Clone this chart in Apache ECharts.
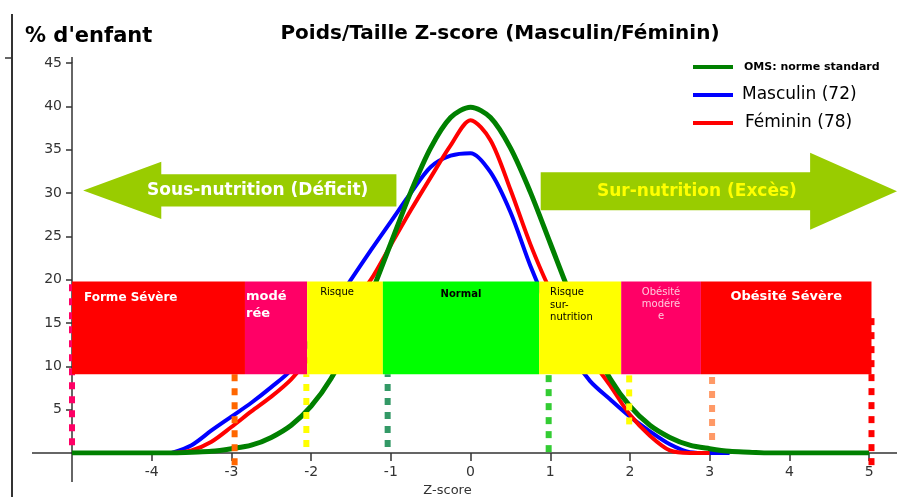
<!DOCTYPE html>
<html>
<head>
<meta charset="utf-8">
<script src="https://cdn.jsdelivr.net/npm/echarts@6/dist/echarts.min.js"></script>
<style>
  html, body { margin: 0; padding: 0; background: #fff; }
  #chart { width: 897px; height: 497px; }
</style>
</head>
<body>
<div id="chart"></div>
<script>
// z-score grid shared by the three curves
const zScores = [-5, -4.75, -4.5, -4.25, -4, -3.75, -3.5, -3.25, -3, -2.75, -2.5, -2.25, -2, -1.75, -1.5, -1.25, -1, -0.75, -0.5, -0.25,
  0, 0.25, 0.5, 0.75, 1, 1.25, 1.5, 1.75, 2, 2.25, 2.5, 2.75, 3, 3.25, 3.5, 3.75, 4, 4.25, 4.5, 4.75, 5];

// % d'enfant
const omsValues = [0, 0, 0, 0, 0, 0, 0.1, 0.2, 0.5, 0.9, 1.8, 3.2, 5.4, 8.6, 13.0, 18.3, 24.2, 30.1, 35.2, 38.7,
  39.9, 38.7, 35.2, 30.1, 24.2, 18.3, 13.0, 8.6, 5.4, 3.2, 1.8, 0.9, 0.5, 0.2, 0.1, 0, 0, 0, 0, 0, 0];
const masculinValues = [null, null, null, null, null, 0, 0.9, 2.6, 4.2, 5.8, 7.6, 9.6, 13.1, 16.5, 20, 23.4, 26.7, 30.0, 33.0, 34.3,
  34.6, 32.4, 27.8, 21.6, 16.2, 11.5, 8.3, 6.2, 4.2, 2.5, 1.0, 0.1, 0, 0, null, null, null, null, null, null, null];
const femininValues = [null, null, null, null, null, 0, 0.3, 1.3, 3.0, 4.8, 6.5, 8.5, 11.2, 14.1, 17.1, 20, 24, 28, 31.8, 35.5,
  38.4, 36.1, 30.4, 24.1, 18.8, 15, 11, 7.8, 4.4, 2.0, 0.3, 0, 0, null, null, null, null, null, null, null, null];

// classification bands
const bandFrom = [-5, -2.83, -2.05, -1.1, 0.86, 1.89, 2.89];
const bandTo = [-2.83, -2.05, -1.1, 0.86, 1.89, 2.89, 5.03];
const bandLow = 9.1;
const bandHigh = 19.8;
const bandLabels = ['Forme Sévère', 'modé\nrée', 'Risque', 'Normal', 'Risque\nsur-\nnutrition', 'Obésité\nmodéré\ne', 'Obésité Sévère'];

// dotted cut-off lines
const cutZ = [-5, -2.96, -2.06, -1.04, 0.98, 1.99, 3.03, 5.03];
const cutFrom = [0.9, -1.4, 0.7, 0.7, 0.1, 3.3, 1.5, -1.4];
const cutTo = [19.8, 9.1, 9.1, 9.1, 9.1, 9.1, 9.1, 15.9];

// arrows: [tail, head base, tip, centre y, body half height, head half height, text z]
const arrowLabels = ['Sous-nutrition (Déficit)', 'Sur-nutrition (Excès)'];
const arrowGeom = [
  [-0.93, -3.88, -4.86, 30.3, 1.85, 3.3, -2.67],
  [0.88, 4.26, 5.35, 30.2, 2.2, 4.45, 2.84]
];

// styles
const bandColors = ['#ff0000', '#ff0066', '#ffff00', '#00ff00', '#ffff00', '#ff0066', '#ff0000'];
const bandText = [
  { align: 'left', dx: 12, dy: 8, color: '#fff', font: 'bold 12px "DejaVu Sans"', lh: 16 },
  { align: 'left', dx: 1, dy: 7, color: '#fff', font: 'bold 13px "DejaVu Sans"', lh: 17 },
  { align: 'left', dx: 13, dy: 5, color: '#000', font: '10px "DejaVu Sans"', lh: 13 },
  { align: 'center', dx: 0, dy: 7, color: '#000', font: 'bold 10px "DejaVu Sans"', lh: 13 },
  { align: 'left', dx: 11, dy: 5, color: '#000', font: '10px "DejaVu Sans"', lh: 12.5 },
  { align: 'center', dx: 0, dy: 5, color: '#ffc8dc', font: '10px "DejaVu Sans"', lh: 12 },
  { align: 'center', dx: 0, dy: 7, color: '#fff', font: 'bold 13px "DejaVu Sans"', lh: 16 }
];
const cutColors = ['#ff0066', '#ff6600', '#ffff00', '#339966', '#33cc33', '#ffff00', '#ff9966', '#ff0000'];
const arrowTextColors = ['#ffffff', '#ffff00'];

const chart = echarts.init(document.getElementById('chart'));

const toPairs = (vals) => zScores.map((z, i) => [z, vals[i]]);

chart.setOption({
  animation: false,
  backgroundColor: '#fff',
  title: [
    {
      text: 'Poids/Taille Z-score (Masculin/Féminin)',
      left: 495, top: 19, textAlign: 'center',
      textStyle: { fontFamily: 'DejaVu Sans', fontWeight: 'bold', fontSize: 20, color: '#000' }
    },
    {
      text: "% d'enfant",
      left: 20, top: 21,
      textStyle: { fontFamily: 'DejaVu Sans', fontWeight: 'bold', fontSize: 21, color: '#000' }
    }
  ],
  legend: {
    orient: 'vertical',
    left: 688, top: 53,
    itemWidth: 40, itemHeight: 4, itemGap: 10,
    icon: 'rect',
    data: [
      { name: 'OMS: norme standard', textStyle: { fontFamily: 'DejaVu Sans', fontWeight: 'bold', fontSize: 11, lineHeight: 18, color: '#000', padding: [0, 0, 0, 6] } },
      { name: 'Masculin (72)', textStyle: { fontFamily: 'DejaVu Sans', fontSize: 17, lineHeight: 18, color: '#000', padding: [0, 0, 0, 4] } },
      { name: 'Féminin (78)', textStyle: { fontFamily: 'DejaVu Sans', fontSize: 17, lineHeight: 18, color: '#000', padding: [0, 0, 0, 7] } }
    ]
  },
  grid: { left: 72, right: 0, top: 63, bottom: 44, outerBoundsMode: 'none' },
  xAxis: {
    type: 'value', min: -5, max: 5.35, interval: 1,
    name: 'Z-score', nameLocation: 'middle', nameGap: 29,
    nameTextStyle: { fontFamily: 'DejaVu Sans', fontSize: 13, color: '#333', padding: [0, 74, 0, 0] },
    axisLine: { onZero: false, lineStyle: { color: '#333', width: 1.5 } },
    axisTick: { length: 8, lineStyle: { color: '#333', width: 1.5 } },
    axisLabel: { showMinLabel: false, showMaxLabel: false, margin: 12, fontFamily: 'DejaVu Sans', fontSize: 14, color: '#333' },
    splitLine: { show: false }
  },
  yAxis: {
    type: 'value', min: 0, max: 45, interval: 5,
    axisLine: { show: true, onZero: false, lineStyle: { color: '#333', width: 1.5 } },
    axisTick: { show: true, length: 6, lineStyle: { color: '#333', width: 1.5 } },
    axisLabel: { showMinLabel: false, margin: 10, fontFamily: 'DejaVu Sans', fontSize: 14, color: '#333' },
    splitLine: { show: false }
  },
  graphic: [
    { type: 'line', shape: { x1: 12, y1: 14, x2: 12, y2: 497 }, style: { stroke: '#333', lineWidth: 2 } },
    { type: 'line', shape: { x1: 5, y1: 58, x2: 12, y2: 58 }, style: { stroke: '#333', lineWidth: 1.5 } },
    { type: 'line', shape: { x1: 32, y1: 453, x2: 72, y2: 453 }, style: { stroke: '#333', lineWidth: 1.5 } },
    { type: 'line', shape: { x1: 72, y1: 57, x2: 72, y2: 63 }, style: { stroke: '#333', lineWidth: 1.5 } },
    { type: 'line', shape: { x1: 72, y1: 453, x2: 72, y2: 482 }, style: { stroke: '#333', lineWidth: 1.5 } }
  ],
  series: [
    {
      name: 'arrows', type: 'custom', z: 1, clip: false, silent: true,
      data: arrowGeom.map((g, i) => [i]),
      renderItem: (params, api) => {
        const i = api.value(0);
        const [tail, base, tip, yc, bh, hh, tz] = arrowGeom[i];
        const pts = [
          [tail, yc + bh], [base, yc + bh], [base, yc + hh], [tip, yc],
          [base, yc - hh], [base, yc - bh], [tail, yc - bh]
        ].map(p => api.coord(p));
        const tp = api.coord([tz, yc]);
        return {
          type: 'group',
          children: [
            { type: 'polygon', shape: { points: pts }, style: { fill: '#99cc00' } },
            { type: 'text', x: tp[0], y: tp[1], style: { text: arrowLabels[i], fill: arrowTextColors[i], font: 'bold 17px "DejaVu Sans"', align: 'center', verticalAlign: 'middle' } }
          ]
        };
      }
    },
    {
      name: 'Masculin (72)', type: 'line', z: 2, smooth: 0.3, showSymbol: false,
      color: '#0000ff', lineStyle: { width: 4, color: '#0000ff' },
      data: toPairs(masculinValues)
    },
    {
      name: 'Féminin (78)', type: 'line', z: 2, smooth: 0.3, showSymbol: false,
      color: '#ff0000', lineStyle: { width: 4, color: '#ff0000' },
      data: toPairs(femininValues)
    },
    {
      name: 'OMS: norme standard', type: 'line', z: 2, smooth: 0.3, showSymbol: false,
      color: '#008000', lineStyle: { width: 5, color: '#008000' },
      data: toPairs(omsValues)
    },
    {
      name: 'cuts', type: 'custom', z: 3, clip: false, silent: true,
      data: cutZ.map((z, i) => [z, cutFrom[i], cutTo[i]]),
      renderItem: (params, api) => {
        const a = api.coord([api.value(0), api.value(1)]);
        const b = api.coord([api.value(0), api.value(2)]);
        return {
          type: 'line',
          shape: { x1: a[0], y1: a[1], x2: b[0], y2: b[1] },
          style: { stroke: cutColors[params.dataIndex], lineWidth: 6, lineDash: [7, 7] }
        };
      }
    },
    {
      name: 'bands', type: 'custom', z: 4, clip: false, silent: true,
      data: bandFrom.map((f, i) => [f, bandTo[i]]),
      renderItem: (params, api) => {
        const i = params.dataIndex;
        const p0 = api.coord([api.value(0), bandHigh]);
        const p1 = api.coord([api.value(1), bandLow]);
        const st = bandText[i];
        const tx = st.align === 'center' ? (p0[0] + p1[0]) / 2 : p0[0] + st.dx;
        return {
          type: 'group',
          children: [
            { type: 'rect', shape: { x: p0[0], y: p0[1], width: p1[0] - p0[0], height: p1[1] - p0[1] }, style: { fill: bandColors[i] } },
            { type: 'text', x: tx, y: p0[1] + st.dy, style: { text: bandLabels[i], fill: st.color, font: st.font, align: st.align, verticalAlign: 'top', lineHeight: st.lh } }
          ]
        };
      }
    }
  ]
});
</script>
</body>
</html>
